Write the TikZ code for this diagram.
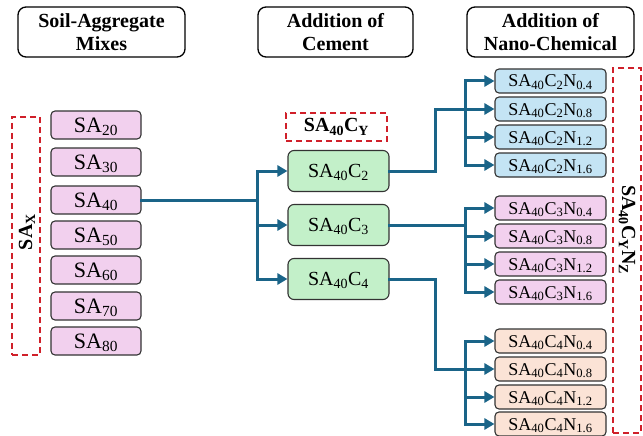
\documentclass[tikz,border=0pt]{standalone}
\usepackage{fontspec}
\setmainfont{Liberation Serif}
\usetikzlibrary{arrows.meta}
\definecolor{flowblue}{HTML}{1A6488}
\definecolor{dashred}{HTML}{D0202A}
\definecolor{mixpink}{HTML}{F2D0EE}
\definecolor{cemgreen}{HTML}{C3F0C9}
\definecolor{nanoblue}{HTML}{C4E4F4}
\definecolor{nanopeach}{HTML}{FBE3D6}
\newcommand{\sbx}[1]{\textsubscript{#1}}

\begin{document}
\begin{tikzpicture}[x=1pt, y=-1pt,
    header/.style={draw=black, line width=1.3pt, rounded corners=8pt, minimum height=50pt,
      align=center, font=\fontsize{20}{23}\selectfont\bfseries},
    mixbox/.style={draw=black!80, line width=1.1pt, rounded corners=4pt, fill=mixpink, inner sep=0pt,
      minimum width=90pt, minimum height=28pt, text height=14.5pt, text depth=0pt,
      font=\fontsize{22}{24}\selectfont},
    cembox/.style={draw=black!80, line width=1.1pt, rounded corners=6pt, fill=cemgreen, inner sep=0pt,
      minimum width=101pt, minimum height=41pt, text height=13pt, text depth=0pt,
      font=\fontsize{20}{22}\selectfont},
    nanobox/.style={draw=black!80, line width=1.1pt, rounded corners=4pt, inner sep=0pt,
      minimum width=111pt, minimum height=24pt, text height=12pt, text depth=0pt,
      font=\fontsize{18}{20}\selectfont},
    group/.style={draw=dashred, dash pattern=on 6pt off 4pt, line width=1.8pt, inner sep=0pt},
    flow/.style={draw=flowblue, line width=3pt, line cap=rect},
    arr/.style={draw=flowblue, line width=3pt, -{Triangle[length=10pt,width=11pt]}}]

    \useasboundingbox (0,0) rectangle (643,436);

    % headers
    \node[header, minimum width=167pt] (hsoil) at (101.5,32) {Soil-Aggregate\\Mixes};
    \node[header, minimum width=155pt] (hcem) at (335.5,32) {Addition of\\Cement};
    \node[header, minimum width=167pt] (hnano) at (550.5,32) {Addition of\\Nano-Chemical};

    % soil-aggregate mixes
    \node[group, minimum width=28pt, minimum height=238pt] (gsax) at (26,236) {};
    \node[rotate=90, font=\fontsize{20}{22}\selectfont\bfseries] (lsax) at (27,232) {SA\sbx{X}};
    \node[mixbox] (sa20) at (96,125) {SA\sbx{20}};
    \node[mixbox] (sa30) at (96,162) {SA\sbx{30}};
    \node[mixbox] (sa40) at (96,200) {SA\sbx{40}};
    \node[mixbox] (sa50) at (96,235) {SA\sbx{50}};
    \node[mixbox] (sa60) at (96,270) {SA\sbx{60}};
    \node[mixbox] (sa70) at (96,306) {SA\sbx{70}};
    \node[mixbox] (sa80) at (96,341) {SA\sbx{80}};

    % cement
    \node[group, minimum width=101pt, minimum height=28pt, font=\fontsize{20}{22}\selectfont\bfseries]
      (gcy) at (336.5,127) {SA\sbx{40}C\sbx{Y}};
    \node[cembox] (c2) at (338.5,171) {SA\sbx{40}C\sbx{2}};
    \node[cembox] (c3) at (338.5,225) {SA\sbx{40}C\sbx{3}};
    \node[cembox] (c4) at (338.5,279) {SA\sbx{40}C\sbx{4}};

    % nano-chemical
    \node[nanobox, fill=nanoblue] (c2a) at (550.5,81) {SA\sbx{40}C\sbx{2}N\sbx{0.4}};
    \node[nanobox, fill=nanoblue] (c2b) at (550.5,109) {SA\sbx{40}C\sbx{2}N\sbx{0.8}};
    \node[nanobox, fill=nanoblue] (c2c) at (550.5,137) {SA\sbx{40}C\sbx{2}N\sbx{1.2}};
    \node[nanobox, fill=nanoblue] (c2d) at (550.5,165) {SA\sbx{40}C\sbx{2}N\sbx{1.6}};
    \node[nanobox, fill=mixpink] (c3a) at (550.5,208) {SA\sbx{40}C\sbx{3}N\sbx{0.4}};
    \node[nanobox, fill=mixpink] (c3b) at (550.5,236) {SA\sbx{40}C\sbx{3}N\sbx{0.8}};
    \node[nanobox, fill=mixpink] (c3c) at (550.5,264) {SA\sbx{40}C\sbx{3}N\sbx{1.2}};
    \node[nanobox, fill=mixpink] (c3d) at (550.5,292) {SA\sbx{40}C\sbx{3}N\sbx{1.6}};
    \node[nanobox, fill=nanopeach] (c4a) at (550.5,341) {SA\sbx{40}C\sbx{4}N\sbx{0.4}};
    \node[nanobox, fill=nanopeach] (c4b) at (550.5,369) {SA\sbx{40}C\sbx{4}N\sbx{0.8}};
    \node[nanobox, fill=nanopeach] (c4c) at (550.5,397) {SA\sbx{40}C\sbx{4}N\sbx{1.2}};
    \node[nanobox, fill=nanopeach] (c4d) at (550.5,424) {SA\sbx{40}C\sbx{4}N\sbx{1.6}};
    \node[group, minimum width=28pt, minimum height=365pt] (gcn) at (627,250.5) {};
    \node[rotate=-90, font=\fontsize{20}{22}\selectfont\bfseries] (lcn) at (627,230)
      {SA\sbx{40}C\sbx{Y}N\sbx{Z}};

    % connectors
    \coordinate (j1) at (257,200);
    \draw[flow] (sa40.east) -- (j1);
    \draw[arr] (j1) |- (c2.west);
    \draw[arr] (j1) |- (c3.west);
    \draw[arr] (j1) |- (c4.west);

    \coordinate (k2) at (435,109);
    \coordinate (t2) at (465,109);
    \draw[flow] (c2.east) -| (k2) -- (t2);
    \draw[arr] (t2) |- (c2a.west);
    \draw[arr] (t2) -- (c2b.west);
    \draw[arr] (t2) |- (c2c.west);
    \draw[arr] (t2) |- (c2d.west);

    \coordinate (t3) at (465,225);
    \draw[flow] (c3.east) -- (t3);
    \draw[arr] (t3) |- (c3a.west);
    \draw[arr] (t3) |- (c3b.west);
    \draw[arr] (t3) |- (c3c.west);
    \draw[arr] (t3) |- (c3d.west);

    \coordinate (k4) at (435,369);
    \coordinate (t4) at (465,369);
    \draw[flow] (c4.east) -| (k4) -- (t4);
    \draw[arr] (t4) |- (c4a.west);
    \draw[arr] (t4) -- (c4b.west);
    \draw[arr] (t4) |- (c4c.west);
    \draw[arr] (t4) |- (c4d.west);

  \end{tikzpicture}
\end{document}
